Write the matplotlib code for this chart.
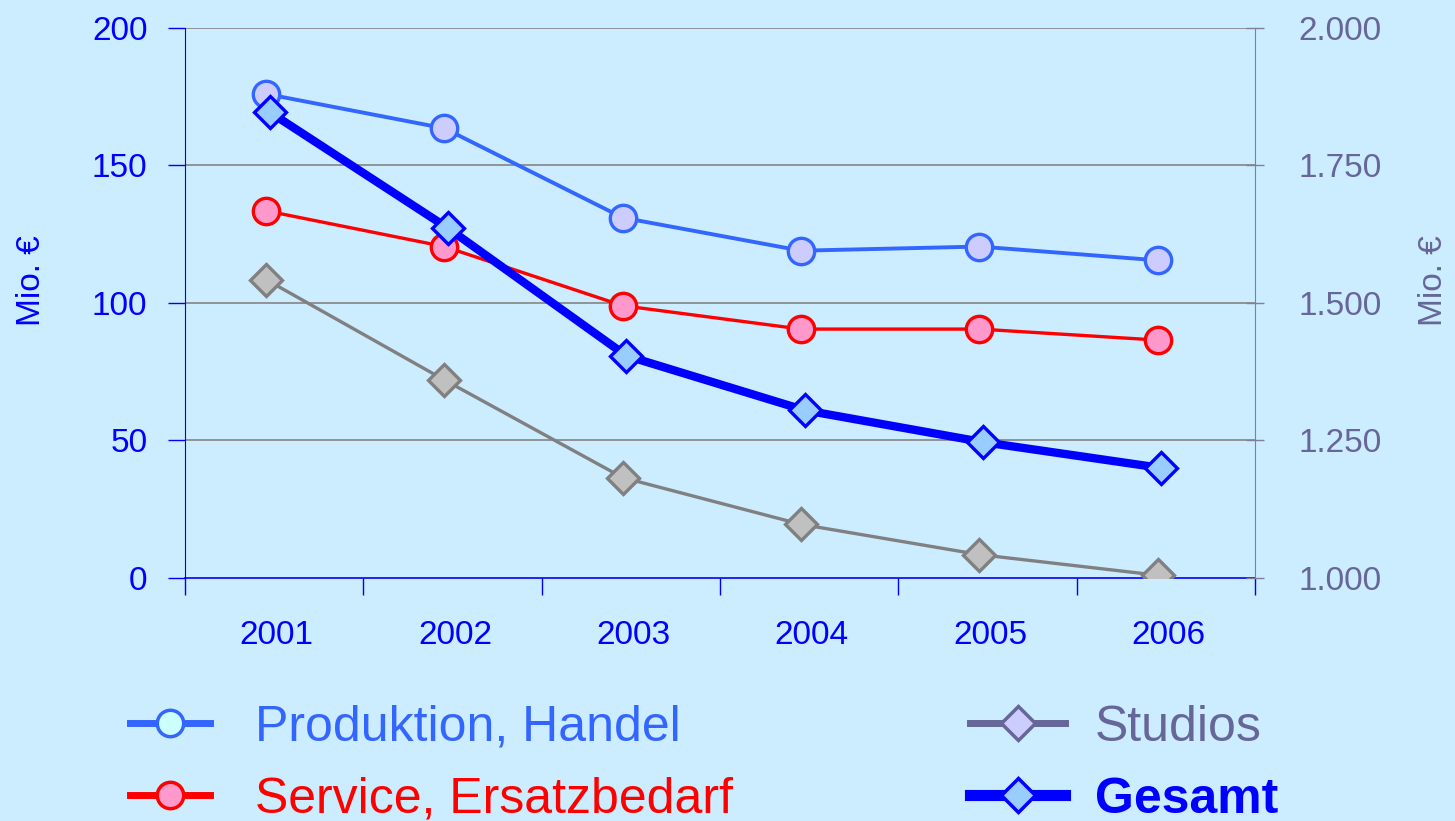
import numpy as np
import matplotlib
matplotlib.use("Agg")
import matplotlib.pyplot as plt
from matplotlib.lines import Line2D
from matplotlib.ticker import FuncFormatter

plt.rcParams['font.family'] = ['Liberation Sans', 'DejaVu Sans']

# data
years = ['2001', '2002', '2003', '2004', '2005', '2006']
produktion = [176, 163.5, 131, 119, 120.5, 115.5]
service = [133.5, 120.5, 99, 90.5, 90.5, 86.5]
studios = [108.5, 72, 36.5, 19.5, 8.5, 1]
gesamt = [1847, 1636, 1404, 1305, 1247, 1200]

bg = '#CCECFF'
slate = '#666699'

fig = plt.figure(figsize=(14.55, 8.21), dpi=100, facecolor=bg)
ax = fig.add_axes([0.1271, 0.296, 0.7354, 0.670])
ax.set_facecolor(bg)
ax2 = ax.twinx()

x = np.arange(len(years))

ax.plot(x, produktion, color='#3366FF', lw=2.8, marker='o', ms=19,
        mfc='#CCCCFF', mec='#3366FF', mew=2.4, zorder=3)
ax.plot(x, service, color='#FF0000', lw=2.4, marker='o', ms=19,
        mfc='#FF99CC', mec='#FF0000', mew=2.4, zorder=3)
ax.plot(x, studios, color='#808080', lw=2.4, marker='D', ms=16,
        mfc='#C0C0C0', mec='#808080', mew=2.4, zorder=3)
ax2.plot(x + 0.02, gesamt, color='#0000FF', lw=6, marker='D', ms=16.5,
         mfc='#99CCFF', mec='#0000FF', mew=2.4, zorder=4)

# left axis
ax.set_ylim(0, 200)
ax.set_yticks([0, 50, 100, 150, 200])
ax.tick_params(axis='y', colors='#0000FF', labelsize=24, length=12, width=1, pad=15)
for v in [50, 100, 150, 200]:
    ax.axhline(v, color='#8C8C8C', lw=1.3, zorder=1)
ax.set_ylabel('Mio. €', color='#0000FF', fontsize=24)
ax.yaxis.set_label_coords(-0.129, 0.54)

# x axis: ticks between categories, labels in the middle
ax.set_xlim(-0.455, 5.545)
ax.set_xticks(x + 0.06)
ax.set_xticklabels(years)
ax.set_xticks(np.arange(7) - 0.455, minor=True)
ax.tick_params(axis='x', which='major', length=0, colors='#0000FF', labelsize=24, pad=30)
ax.tick_params(axis='x', which='minor', length=12, width=1, color='#0000FF', direction='out')

for s in ['top']:
    ax.spines[s].set_visible(False)
    ax2.spines[s].set_visible(False)
ax.spines['left'].set_color('#0000FF')
ax.spines['bottom'].set_color('#0000FF')
ax.spines['bottom'].set_linewidth(1.2)
ax.spines['right'].set_visible(False)
ax2.spines['left'].set_visible(False)
ax2.spines['bottom'].set_visible(False)
ax2.spines['right'].set_color('#7F7F9F')

# right axis
ax2.set_ylim(1000, 2000)
ax2.set_yticks([1000, 1250, 1500, 1750, 2000])
ax2.yaxis.set_major_formatter(FuncFormatter(lambda v, p: f'{v:,.0f}'.replace(',', '.')))
ax2.tick_params(axis='y', colors='#7F7F9F', labelcolor=slate, labelsize=24,
                length=13, width=1, direction='inout', pad=25)
ax2.set_ylabel('Mio. €', color=slate, fontsize=24, rotation=90)
ax2.yaxis.set_label_coords(1.152, 0.54)

# legend
h1 = [Line2D([], [], color='#3366FF', lw=5, marker='o', ms=19, mfc='#CCFFFF', mec='#3366FF', mew=2.5),
      Line2D([], [], color='#FF0000', lw=5, marker='o', ms=19, mfc='#FF99CC', mec='#FF0000', mew=2.5)]
h2 = [Line2D([], [], color=slate, lw=5, marker='D', ms=17, mfc='#CCCCFF', mec=slate, mew=2.5),
      Line2D([], [], color='#0000FF', lw=8, marker='D', ms=17, mfc='#99CCFF', mec='#0000FF', mew=2.5)]

leg1 = fig.legend(h1, ['Produktion, Handel', 'Service, Ersatzbedarf'], loc='center left',
                  bbox_to_anchor=(0.0893, 0.070), frameon=False, fontsize=36,
                  handlelength=1.6, handletextpad=0.9, labelspacing=0.52,
                  borderpad=0, borderaxespad=0)
for t, c in zip(leg1.get_texts(), ['#3366FF', '#FF0000']):
    t.set_color(c)

leg2 = fig.legend(h2, ['Studios', 'Gesamt'], loc='center left',
                  bbox_to_anchor=(0.6667, 0.070), frameon=False, fontsize=36,
                  handlelength=1.9, handletextpad=0.6, labelspacing=0.52,
                  borderpad=0, borderaxespad=0)
t1, t2 = leg2.get_texts()
t1.set_color(slate)
t2.set_color('#0000FF')
t2.set_fontweight('bold')

fig.savefig('out.png', dpi=100, facecolor=bg)
